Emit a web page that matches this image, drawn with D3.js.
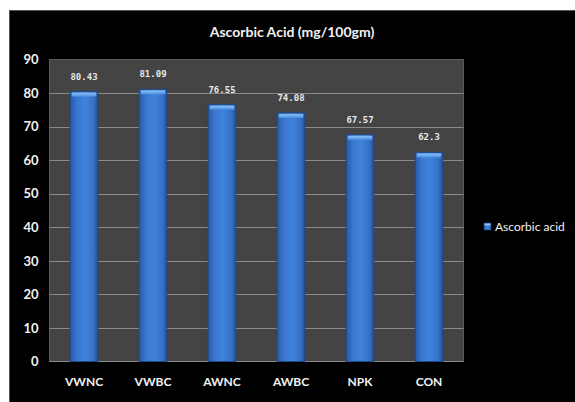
<!DOCTYPE html>
<html>
<head>
<meta charset="utf-8">
<script src="https://cdn.jsdelivr.net/npm/d3@7"></script>
<style>
  html, body { margin: 0; padding: 0; background: #fff; }
  svg { display: block; }
</style>
</head>
<body>
<script>
// Ascorbic acid content per treatment
const categories = ["VWNC", "VWBC", "AWNC", "AWBC", "NPK", "CON"];
const values = [80.43, 81.09, 76.55, 74.08, 67.57, 62.3];
const valueLabels = ["80.43", "81.09", "76.55", "74.08", "67.57", "62.3"];
const yTicks = [0, 10, 20, 30, 40, 50, 60, 70, 80, 90];
const seriesName = "Ascorbic acid";
const title = "Ascorbic Acid (mg/100gm)";

const W = 575, H = 402;
const svg = d3.select("body").append("svg").attr("width", W).attr("height", H);

const defs = svg.append("defs");
// horizontal gradient for the cylinder-like bars
const g = defs.append("linearGradient").attr("id", "barGrad").attr("x1", "0").attr("x2", "1").attr("y1", "0").attr("y2", "0");
g.append("stop").attr("offset", "0%").attr("stop-color", "#2a5aa6");
g.append("stop").attr("offset", "25%").attr("stop-color", "#3a78cf");
g.append("stop").attr("offset", "55%").attr("stop-color", "#3f82dc");
g.append("stop").attr("offset", "85%").attr("stop-color", "#3670c4");
g.append("stop").attr("offset", "100%").attr("stop-color", "#254f94");
const cap = defs.append("linearGradient").attr("id", "capGrad").attr("x1", "0").attr("x2", "0").attr("y1", "0").attr("y2", "1");
cap.append("stop").attr("offset", "0%").attr("stop-color", "#8cc0f5");
cap.append("stop").attr("offset", "100%").attr("stop-color", "#4a8fe3");
// fine texture on the plot area
const pat = defs.append("pattern").attr("id", "tex").attr("width", 2).attr("height", 2).attr("patternUnits", "userSpaceOnUse");
pat.append("rect").attr("width", 2).attr("height", 2).attr("fill", "#404040");
pat.append("rect").attr("width", 1).attr("height", 1).attr("fill", "#474747");
pat.append("rect").attr("x", 1).attr("y", 1).attr("width", 1).attr("height", 1).attr("fill", "#474747");

// black chart panel
svg.append("rect").attr("x", 9).attr("y", 10).attr("width", W - 9).attr("height", H - 10).attr("fill", "#000");
svg.append("line").attr("x1", 9).attr("x2", W).attr("y1", 10.5).attr("y2", 10.5).attr("stroke", "#555");
svg.append("line").attr("x1", 9.5).attr("x2", 9.5).attr("y1", 10).attr("y2", H).attr("stroke", "#555");

const plot = { left: 49.5, right: 463.5, top: 59.5, bottom: 361.5 };

const x = d3.scaleBand().domain(categories).range([plot.left, plot.right]).paddingInner(0.6).paddingOuter(0.3);
const y = d3.scaleLinear().domain([0, 90]).range([plot.bottom, plot.top]);

// plot area
svg.append("rect").attr("x", plot.left).attr("y", plot.top)
  .attr("width", plot.right - plot.left).attr("height", plot.bottom - plot.top)
  .attr("fill", "url(#tex)").attr("stroke", "#5a5a5a");

// gridlines
svg.append("g").selectAll("line").data(yTicks.filter(t => t > 0 && t < 90)).join("line")
  .attr("x1", plot.left).attr("x2", plot.right)
  .attr("y1", d => Math.round(y(d)) + 0.5).attr("y2", d => Math.round(y(d)) + 0.5)
  .attr("stroke", "#8a8a8a").attr("stroke-width", 1);
svg.append("line").attr("x1", plot.left).attr("x2", plot.right)
  .attr("y1", plot.bottom).attr("y2", plot.bottom).attr("stroke", "#8a8a8a");

// y axis labels
const yAxis = d3.axisLeft(y).tickValues(yTicks).tickSize(0).tickPadding(11);
const ya = svg.append("g").attr("transform", `translate(${plot.left},0)`).call(yAxis);
ya.select(".domain").remove();
ya.selectAll("text").attr("fill", "#f2f2f2").attr("font-family", "Lato, 'Open Sans', sans-serif")
  .attr("font-weight", "bold").attr("font-size", 13);

// x axis labels
const xAxis = d3.axisBottom(x).tickSize(0).tickPadding(16);
const xa = svg.append("g").attr("transform", `translate(0,${plot.bottom})`).call(xAxis);
xa.select(".domain").remove();
xa.selectAll("text").attr("fill", "#f2f2f2").attr("font-family", "Lato, 'Open Sans', sans-serif")
  .attr("font-weight", "bold").attr("font-size", 12);

// bars
const bars = svg.append("g").selectAll("g").data(categories.map((c, i) => ({ c, v: values[i], label: valueLabels[i] }))).join("g");
bars.append("rect")
  .attr("x", d => x(d.c)).attr("y", d => y(d.v))
  .attr("width", x.bandwidth()).attr("height", d => y(0) - y(d.v))
  .attr("fill", "url(#barGrad)").attr("stroke", "#1f4a8a").attr("stroke-width", 1);
bars.append("rect")
  .attr("x", d => x(d.c) + 1.5).attr("y", d => y(d.v) + 1)
  .attr("width", x.bandwidth() - 3).attr("height", 4)
  .attr("fill", "url(#capGrad)");

// value labels
bars.append("text")
  .attr("x", d => x(d.c) + x.bandwidth() / 2).attr("y", d => y(d.v) - 12)
  .attr("text-anchor", "middle").attr("fill", "#e8e8e8")
  .attr("font-family", "'DejaVu Sans Mono', monospace").attr("font-weight", "bold").attr("font-size", 9)
  .text(d => d.label);

// title
svg.append("text").attr("x", 292).attr("y", 37).attr("text-anchor", "middle")
  .attr("fill", "#f2f2f2").attr("font-family", "Lato, 'Open Sans', sans-serif")
  .attr("font-weight", "bold").attr("font-size", 14).text(title);

// legend
const lg = svg.append("g").attr("transform", "translate(484,223)");
lg.append("rect").attr("width", 7).attr("height", 7).attr("fill", "url(#barGrad)").attr("stroke", "#1f4a8a").attr("stroke-width", 0.5);
lg.append("rect").attr("x", 0.5).attr("y", 0.5).attr("width", 6).attr("height", 2).attr("fill", "#8cc0f5");
lg.append("text").attr("x", 11).attr("y", 7.5).attr("fill", "#f2f2f2")
  .attr("font-family", "Lato, 'Open Sans', sans-serif").attr("font-size", 12).text(seriesName);
</script>
</body>
</html>
